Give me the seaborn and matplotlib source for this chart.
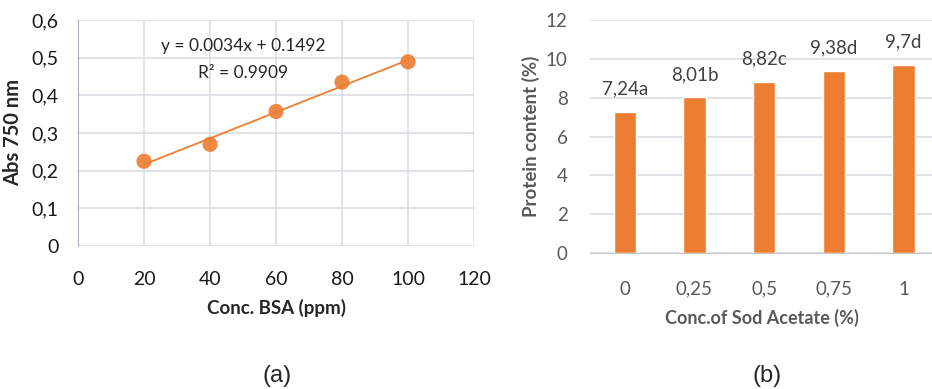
import numpy as np
import pandas as pd
import matplotlib
matplotlib.use("Agg")
import matplotlib.pyplot as plt
import seaborn as sns

# (a) BSA standard curve
bsa_conc = [20, 40, 60, 80, 100]
bsa_abs = [0.225, 0.270, 0.357, 0.435, 0.489]
# (b) protein content
acetate_labels = ["0", "0,25", "0,5", "0,75", "1"]
protein = [7.24, 8.01, 8.82, 9.38, 9.70]
protein_letters = ["a", "b", "c", "d", "d"]

sns.set_style("white")
plt.rcParams['font.family'] = ['Lato', 'DejaVu Sans']

orange = "#ED7D31"
grid_c = "#D9DDE3"
gray_txt = "#595959"

fig = plt.figure(figsize=(9.32, 3.89), dpi=100)
ax1 = fig.add_axes([0.0837, 0.3676, 0.4249, 0.581])
ax2 = fig.add_axes([0.633, 0.3496, 0.37, 0.599])

std = pd.DataFrame({"conc": bsa_conc, "abs": bsa_abs})
sns.regplot(data=std, x="conc", y="abs", ax=ax1, ci=None, color=orange,
            scatter_kws={"s": 120, "alpha": 0.9, "edgecolor": "none"},
            line_kws={"lw": 1.3})
ax1.set_xlim(0, 120)
ax1.set_ylim(0, 0.6)
ax1.set_xticks(range(0, 121, 20))
ax1.set_yticks(np.arange(0, 0.61, 0.1))
ax1.set_yticklabels([f"{v:.1f}".replace(".", ",").replace("0,0", "0") for v in np.arange(0, 0.61, 0.1)])
ax1.grid(True, color=grid_c, lw=1.2)
ax1.set_axisbelow(True)
for s in ["top", "right", "bottom"]:
    ax1.spines[s].set_visible(False)
ax1.spines["left"].set_color("#A8B0BC")
ax1.tick_params(axis="x", length=0, pad=18, labelsize=14, labelcolor="#1a1a1a")
ax1.tick_params(axis="y", length=0, pad=14, labelsize=14, labelcolor="#1a1a1a")
ax1.set_xlabel("Conc. BSA (ppm)", fontsize=13.5, fontweight="bold", labelpad=8)
ax1.set_ylabel("Abs 750 nm", fontsize=14.5, fontweight="bold", labelpad=6)
ax1.text(50, 0.53, "y = 0.0034x + 0.1492", ha="center", va="center", fontsize=12.5)
ax1.text(50, 0.46, "R² = 0.9909", ha="center", va="center", fontsize=12.5)

prot = pd.DataFrame({"acetate": acetate_labels, "protein": protein})
sns.barplot(data=prot, x="acetate", y="protein", ax=ax2, color=orange,
            saturation=1, width=0.32)
for i, (v, l) in enumerate(zip(protein, protein_letters)):
    ax2.text(i, v + 0.75, f"{v:g}".replace(".", ",") + l, ha="center", va="bottom",
             fontsize=13.5, color="#404040")
ax2.set_xlim(-0.5, 4.45)
ax2.set_ylim(0, 12)
ax2.set_yticks(range(0, 13, 2))
ax2.yaxis.grid(True, color=grid_c, lw=1.2)
ax2.set_axisbelow(True)
for s in ["top", "right", "left"]:
    ax2.spines[s].set_visible(False)
ax2.spines["bottom"].set_color("#C8C8C8")
ax2.tick_params(axis="x", length=0, pad=20, labelsize=13.5, labelcolor=gray_txt)
ax2.tick_params(axis="y", length=0, pad=16, labelsize=13.5, labelcolor=gray_txt)
ax2.set_xlabel("Conc.of Sod Acetate (%)", fontsize=13, fontweight="bold", color=gray_txt, labelpad=8)
ax2.set_ylabel("Protein content (%)", fontsize=13.5, fontweight="bold", color=gray_txt, labelpad=4)

fig.text(277 / 932, 1 - 376 / 389, "(a)", ha="center", va="center", fontsize=17,
         family="Liberation Sans")
fig.text(767 / 932, 1 - 376 / 389, "(b)", ha="center", va="center", fontsize=17,
         family="Liberation Sans")

fig.savefig("out.png", dpi=100, facecolor="white")
